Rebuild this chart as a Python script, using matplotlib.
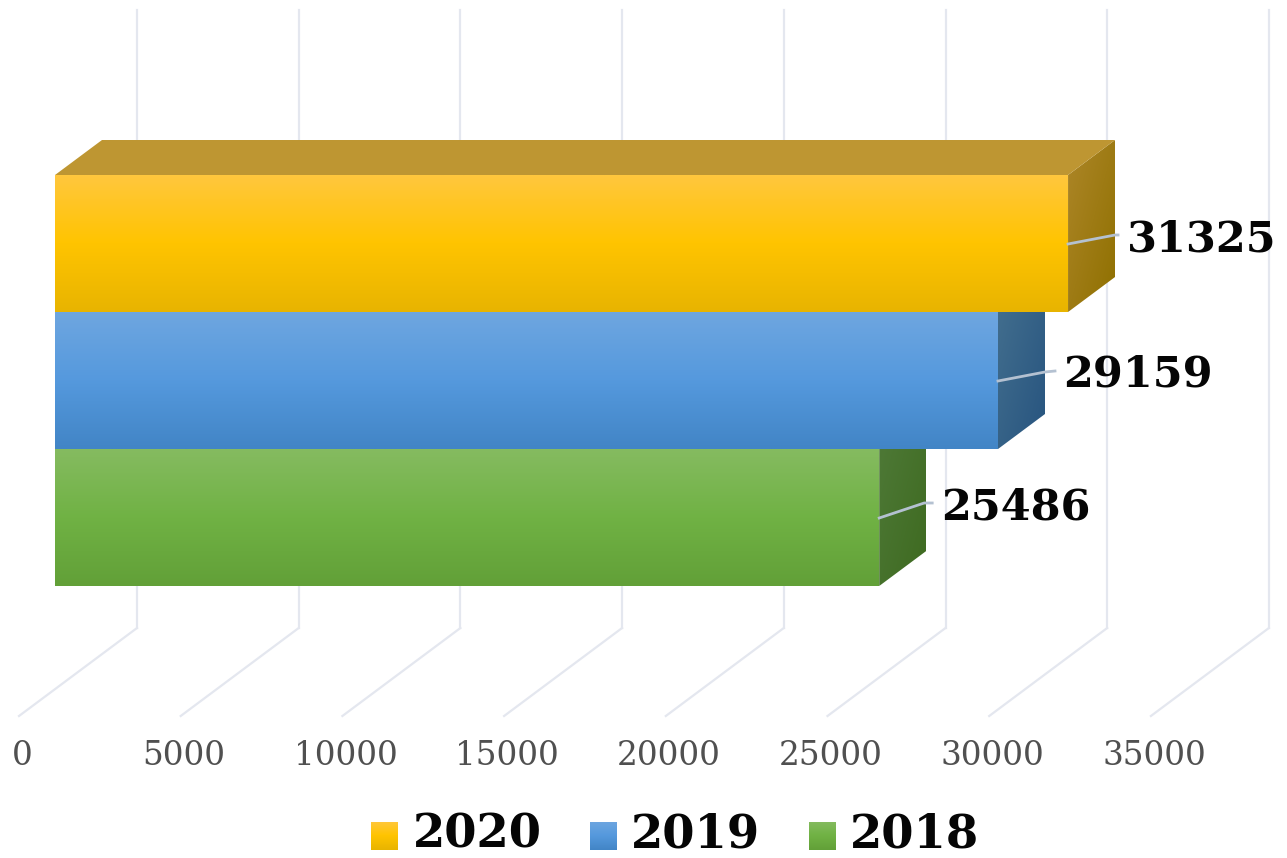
import numpy as np
import matplotlib
matplotlib.use("Agg")
import matplotlib.pyplot as plt
from matplotlib.colors import LinearSegmentedColormap
from matplotlib.patches import Polygon

years = ["2018", "2019", "2020"]
values = [25486, 29159, 31325]
ticks = [0, 5000, 10000, 15000, 20000, 25000, 30000, 35000]

front_cols = [["#85BB60", "#70B244", "#62A038"],
              ["#6EA6E0", "#5599DD", "#4285C6"],
              ["#FFC73D", "#FFC400", "#E8B400"]]
side_cols = [["#4F7A38", "#3E6A20"],
             ["#44708F", "#27547F"],
             ["#AD8628", "#8F7000"]]
top_col = "#BE9632"

# scale of the picture: pixels per unit on both axes
k = 161.7 / 5000
bar_h = 137.0
dx = 47 / k
dy = 35 / bar_h

fig = plt.figure(figsize=(12.87, 8.58), dpi=100)
ax = fig.add_axes([0, 0, 1, 1])
ax.set_axis_off()


def px(p):
    return p / k


def py(p):
    return p / bar_h


def gradient(a, pts, cols, diagonal=False, z=2):
    # gradient fill clipped to a polygon, top to bottom (or corner to corner)
    pts = np.array(pts, dtype=float)
    cmap = LinearSegmentedColormap.from_list("g", cols)
    yy, xx = np.mgrid[0:1:100j, 0:1:100j]
    arr = (yy + xx) / 2 if diagonal else yy
    ext = [pts[:, 0].min(), pts[:, 0].max(), pts[:, 1].min(), pts[:, 1].max()]
    im = a.imshow(arr, cmap=cmap, extent=ext, origin="upper", aspect="auto", zorder=z, vmin=0, vmax=1)
    clip = Polygon(pts, closed=True, transform=a.transData, fc="none", ec="none")
    a.add_patch(clip)
    im.set_clip_path(clip)


# walls and floor lines
for t in ticks:
    back = t + px(82)
    ax.plot([back, back], [py(586 - 10), py(586 - 628)], color="#E4E7EF", lw=1.6, zorder=1)
    ax.plot([back, t + px(-36)], [py(586 - 628), py(586 - 716)], color="#E4E7EF", lw=1.6, zorder=1)
    ax.text(t + px(-33), py(586 - 756), str(t), family="DejaVu Serif", fontsize=23.5, color="#505050",
            ha="center", va="center", zorder=5)

# bars, lowest first so each one covers the side of the next
for i, v in enumerate(values):
    z = 2 + i
    gradient(ax, [(v, i), (v + dx, i + dy), (v + dx, i + 1 + dy), (v, i + 1)], side_cols[i], True, z)
    gradient(ax, [(0, i), (v, i), (v, i + 1), (0, i + 1)], front_cols[i], False, z)
top = len(values)
ax.add_patch(Polygon([(0, top), (values[-1], top), (values[-1] + dx, top + dy), (dx, top + dy)],
                     closed=True, fc=top_col, ec="none", zorder=5))

# leader lines and value labels, given as pixel offsets from the bar end
leaders = [[(0, 518), (45, 503), (53, 503)],
           [(0, 381), (47, 372), (57, 371)],
           [(0, 244), (47, 235), (50, 235)]]
label_x = [62, 65, 59]
label_y = [507, 375, 239]
for i, v in enumerate(values):
    xs = [v + px(p[0]) for p in leaders[i]]
    ys = [py(586 - p[1]) for p in leaders[i]]
    ax.plot(xs, ys, color="#B4C1D1", lw=2, zorder=6)
    ax.text(v + px(label_x[i]), py(586 - label_y[i]), str(v), family="DejaVu Serif", weight="bold",
            fontsize=31, color="#050505", ha="left", va="center", zorder=7)

# legend, newest first
swatch_x = [809, 590, 371]
text_x = [850, 631, 413]
for i, y in enumerate(years):
    x0 = swatch_x[i]
    x_l, x_r = px(x0 - 55), px(x0 + 27 - 55)
    gradient(ax, [(x_l, py(586 - 822)), (x_r, py(586 - 822)), (x_r, py(586 - 850)), (x_l, py(586 - 850))],
             front_cols[i], False, 8)
    ax.text(px(text_x[i] - 55), py(586 - 835), y, family="DejaVu Serif", weight="bold", fontsize=33.5,
            color="#050505", ha="left", va="center", zorder=8)

ax.set_xlim(px(-55), px(1287 - 55))
ax.set_ylim(py(586 - 858), py(586))

fig.savefig("out.png", dpi=100)
